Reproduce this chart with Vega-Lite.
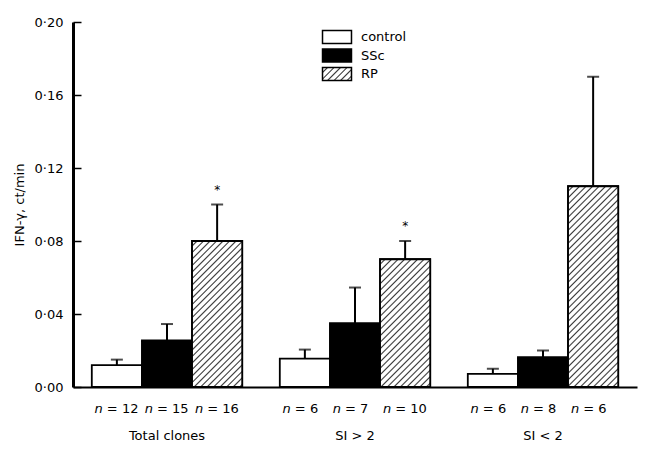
{
  "$schema": "https://vega.github.io/schema/vega-lite/v6.json",
  "width": 564,
  "height": 365,
  "autosize": {"type": "none"},
  "padding": {"left": 73, "top": 22, "right": 9, "bottom": 67},
  "background": "white",
  "config": {
    "view": {"stroke": null},
    "font": "DejaVu Sans",
    "text": {"font": "DejaVu Sans", "color": "black"}
  },
  "params": [
    {"name": "hatch", "value": [
      {"offset":0,"color":"#fff"},{"offset":0.0135,"color":"#fff"},{"offset":0.0195,"color":"#333"},
      {"offset":0.025,"color":"#fff"},{"offset":0.0385,"color":"#fff"},{"offset":0.0445,"color":"#333"},
      {"offset":0.05,"color":"#fff"},{"offset":0.0635,"color":"#fff"},{"offset":0.0695,"color":"#333"},
      {"offset":0.075,"color":"#fff"},{"offset":0.0885,"color":"#fff"},{"offset":0.0945,"color":"#333"},
      {"offset":0.1,"color":"#fff"},{"offset":0.1135,"color":"#fff"},{"offset":0.1195,"color":"#333"},
      {"offset":0.125,"color":"#fff"},{"offset":0.1385,"color":"#fff"},{"offset":0.1445,"color":"#333"},
      {"offset":0.15,"color":"#fff"},{"offset":0.1635,"color":"#fff"},{"offset":0.1695,"color":"#333"},
      {"offset":0.175,"color":"#fff"},{"offset":0.1885,"color":"#fff"},{"offset":0.1945,"color":"#333"},
      {"offset":0.2,"color":"#fff"},{"offset":0.2135,"color":"#fff"},{"offset":0.2195,"color":"#333"},
      {"offset":0.225,"color":"#fff"},{"offset":0.2385,"color":"#fff"},{"offset":0.2445,"color":"#333"},
      {"offset":0.25,"color":"#fff"},{"offset":0.2635,"color":"#fff"},{"offset":0.2695,"color":"#333"},
      {"offset":0.275,"color":"#fff"},{"offset":0.2885,"color":"#fff"},{"offset":0.2945,"color":"#333"},
      {"offset":0.3,"color":"#fff"},{"offset":0.3135,"color":"#fff"},{"offset":0.3195,"color":"#333"},
      {"offset":0.325,"color":"#fff"},{"offset":0.3385,"color":"#fff"},{"offset":0.3445,"color":"#333"},
      {"offset":0.35,"color":"#fff"},{"offset":0.3635,"color":"#fff"},{"offset":0.3695,"color":"#333"},
      {"offset":0.375,"color":"#fff"},{"offset":0.3885,"color":"#fff"},{"offset":0.3945,"color":"#333"},
      {"offset":0.4,"color":"#fff"},{"offset":0.4135,"color":"#fff"},{"offset":0.4195,"color":"#333"},
      {"offset":0.425,"color":"#fff"},{"offset":0.4385,"color":"#fff"},{"offset":0.4445,"color":"#333"},
      {"offset":0.45,"color":"#fff"},{"offset":0.4635,"color":"#fff"},{"offset":0.4695,"color":"#333"},
      {"offset":0.475,"color":"#fff"},{"offset":0.4885,"color":"#fff"},{"offset":0.4945,"color":"#333"},
      {"offset":0.5,"color":"#fff"},{"offset":0.5135,"color":"#fff"},{"offset":0.5195,"color":"#333"},
      {"offset":0.525,"color":"#fff"},{"offset":0.5385,"color":"#fff"},{"offset":0.5445,"color":"#333"},
      {"offset":0.55,"color":"#fff"},{"offset":0.5635,"color":"#fff"},{"offset":0.5695,"color":"#333"},
      {"offset":0.575,"color":"#fff"},{"offset":0.5885,"color":"#fff"},{"offset":0.5945,"color":"#333"},
      {"offset":0.6,"color":"#fff"},{"offset":0.6135,"color":"#fff"},{"offset":0.6195,"color":"#333"},
      {"offset":0.625,"color":"#fff"},{"offset":0.6385,"color":"#fff"},{"offset":0.6445,"color":"#333"},
      {"offset":0.65,"color":"#fff"},{"offset":0.6635,"color":"#fff"},{"offset":0.6695,"color":"#333"},
      {"offset":0.675,"color":"#fff"},{"offset":0.6885,"color":"#fff"},{"offset":0.6945,"color":"#333"},
      {"offset":0.7,"color":"#fff"},{"offset":0.7135,"color":"#fff"},{"offset":0.7195,"color":"#333"},
      {"offset":0.725,"color":"#fff"},{"offset":0.7385,"color":"#fff"},{"offset":0.7445,"color":"#333"},
      {"offset":0.75,"color":"#fff"},{"offset":0.7635,"color":"#fff"},{"offset":0.7695,"color":"#333"},
      {"offset":0.775,"color":"#fff"},{"offset":0.7885,"color":"#fff"},{"offset":0.7945,"color":"#333"},
      {"offset":0.8,"color":"#fff"},{"offset":0.8135,"color":"#fff"},{"offset":0.8195,"color":"#333"},
      {"offset":0.825,"color":"#fff"},{"offset":0.8385,"color":"#fff"},{"offset":0.8445,"color":"#333"},
      {"offset":0.85,"color":"#fff"},{"offset":0.8635,"color":"#fff"},{"offset":0.8695,"color":"#333"},
      {"offset":0.875,"color":"#fff"},{"offset":0.8885,"color":"#fff"},{"offset":0.8945,"color":"#333"},
      {"offset":0.9,"color":"#fff"},{"offset":0.9135,"color":"#fff"},{"offset":0.9195,"color":"#333"},
      {"offset":0.925,"color":"#fff"},{"offset":0.9385,"color":"#fff"},{"offset":0.9445,"color":"#333"},
      {"offset":0.95,"color":"#fff"},{"offset":0.9635,"color":"#fff"},{"offset":0.9695,"color":"#333"},
      {"offset":0.975,"color":"#fff"},{"offset":0.9885,"color":"#fff"},{"offset":0.9945,"color":"#333"},
      {"offset":1,"color":"#fff"}
    ]}
  ],
  "data": {
    "values": [
      {"group": "Total clones", "series": "control", "mean": 0.012, "upper": 0.015, "n": 12, "sig": ""},
      {"group": "Total clones", "series": "SSc", "mean": 0.0255, "upper": 0.0345, "n": 15, "sig": ""},
      {"group": "Total clones", "series": "RP", "mean": 0.080, "upper": 0.100, "n": 16, "sig": "*"},
      {"group": "SI > 2", "series": "control", "mean": 0.0155, "upper": 0.0205, "n": 6, "sig": ""},
      {"group": "SI > 2", "series": "SSc", "mean": 0.035, "upper": 0.0545, "n": 7, "sig": ""},
      {"group": "SI > 2", "series": "RP", "mean": 0.070, "upper": 0.080, "n": 10, "sig": "*"},
      {"group": "SI < 2", "series": "control", "mean": 0.0072, "upper": 0.010, "n": 6, "sig": ""},
      {"group": "SI < 2", "series": "SSc", "mean": 0.0163, "upper": 0.020, "n": 8, "sig": ""},
      {"group": "SI < 2", "series": "RP", "mean": 0.110, "upper": 0.170, "n": 6, "sig": ""}
    ]
  },
  "encoding": {
    "x": {
      "field": "group", "type": "nominal", "sort": ["Total clones", "SI > 2", "SI < 2"],
      "scale": {"paddingInner": 0.2, "paddingOuter": 0.1},
      "axis": {
        "title": null, "labelAngle": 0, "ticks": false,
        "domainColor": "black", "domainWidth": 2,
        "labelFont": "DejaVu Sans", "labelFontSize": 13, "labelColor": "black",
        "labelPadding": 42
      }
    },
    "xOffset": {
      "field": "series", "type": "nominal", "sort": ["control", "SSc", "RP"],
      "scale": {"paddingInner": 0, "paddingOuter": 0}
    }
  },
  "layer": [
    {
      "mark": {"type": "bar", "stroke": "black", "strokeWidth": 1.8, "opacity": 1},
      "encoding": {
        "y": {
          "field": "mean", "type": "quantitative",
          "scale": {"domain": [0, 0.2], "nice": false, "zero": true},
          "axis": {
            "title": "IFN-γ, ct/min",
            "values": [0, 0.04, 0.08, 0.12, 0.16, 0.2],
            "labelExpr": "replace(format(datum.value, '.2f'), '.', '·')",
            "grid": false,
            "domainColor": "black", "domainWidth": 3,
            "tickColor": "black", "tickWidth": 1.5, "tickSize": -8,
            "labelFont": "DejaVu Sans", "labelFontSize": 13, "labelColor": "black",
            "labelPadding": 18,
            "titleFont": "DejaVu Sans", "titleFontSize": 13, "titleFontWeight": "normal",
            "titleColor": "black", "titlePadding": 8
          }
        },
        "fill": {
          "field": "series", "type": "nominal",
          "scale": {
            "domain": ["control", "SSc", "RP"],
            "range": ["#ffffff", "#000000", {"expr": "{gradient: 'linear', x1: 0, y1: 0, x2: 7.47, y2: 3.35, stops: hatch}"}]
          },
          "legend": {
            "title": null,
            "orient": "none", "legendX": 256, "legendY": 7,
            "labelFont": "DejaVu Sans", "labelFontSize": 13, "labelColor": "black",
            "labelOffset": 16, "rowPadding": -1.5,
            "symbolType": "M-2,-0.9H2V0.9H-2Z", "symbolSize": 210,
            "symbolStrokeColor": "black", "symbolStrokeWidth": 1.5, "symbolOpacity": 1
          }
        }
      }
    },
    {
      "transform": [{"filter": "datum.series === 'RP'"}],
      "mark": {
        "type": "bar", "stroke": "black", "strokeWidth": 1.8,
        "fill": {"expr": "{gradient: 'linear', x1: 0, y1: 0, x2: bandwidth('xOffset') * 260 / (pow(bandwidth('xOffset'), 2) + pow(scale('y', 0) - scale('y', datum.mean), 2)), y2: (scale('y', 0) - scale('y', datum.mean)) * 260 / (pow(bandwidth('xOffset'), 2) + pow(scale('y', 0) - scale('y', datum.mean), 2)), stops: hatch}"}
      },
      "encoding": {
        "y": {"field": "mean", "type": "quantitative"}
      }
    },
    {
      "mark": {"type": "rule", "color": "black", "strokeWidth": 2},
      "encoding": {
        "y": {"field": "mean", "type": "quantitative"},
        "y2": {"field": "upper"}
      }
    },
    {
      "mark": {"type": "tick", "color": "black", "orient": "horizontal", "size": 12, "thickness": 2},
      "encoding": {
        "y": {"field": "upper", "type": "quantitative"}
      }
    },
    {
      "transform": [{"filter": "datum.sig === '*'"}],
      "mark": {"type": "text", "fontSize": 12, "baseline": "middle", "dy": -15, "color": "black"},
      "encoding": {
        "y": {"field": "upper", "type": "quantitative"},
        "text": {"field": "sig"}
      }
    },
    {
      "mark": {"type": "text", "text": "n", "fontStyle": "italic", "fontSize": 13, "align": "right", "baseline": "middle", "dx": -14, "dy": 22, "color": "black"},
      "encoding": {
        "y": {"datum": 0, "type": "quantitative"}
      }
    },
    {
      "mark": {"type": "text", "text": {"expr": "'= ' + datum.n"}, "fontSize": 13, "align": "left", "baseline": "middle", "dx": -10, "dy": 22, "color": "black"},
      "encoding": {
        "y": {"datum": 0, "type": "quantitative"}
      }
    }
  ]
}
